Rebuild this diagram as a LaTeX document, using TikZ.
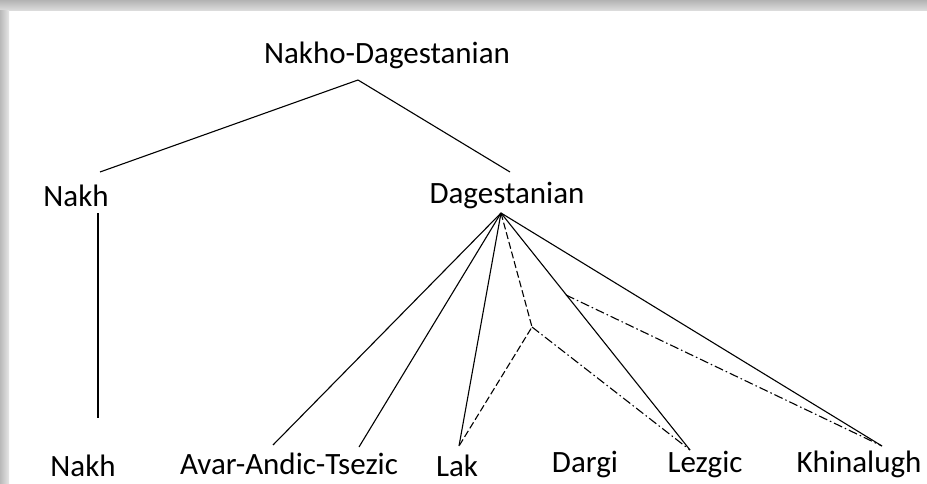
\documentclass[tikz,border=0pt]{standalone}
\usepackage{fontspec}
\setmainfont{Carlito}
\usetikzlibrary{positioning, calc}

\begin{document}
\begin{tikzpicture}[
  x=1pt, y=-1pt,
  lang/.style = {inner sep=0pt, font=\fontsize{31}{31}\selectfont},
  branch/.style = {line width=1.1pt},
  unsure/.style = {line width=1.1pt, dash pattern=on 7pt off 3pt},
  maybe/.style = {line width=1.1pt, dash pattern=on 9pt off 3pt on 1.5pt off 3pt}
]

  % ======================================================
  % Page with shadow on top and left
  % ======================================================
  \fill[white] (0,0) rectangle (927,484);
  \shade[top color=gray!60, bottom color=gray!25] (0,0) rectangle (927,11);
  \shade[left color=gray!55, right color=gray!20] (0,11) rectangle (9,484);
  \useasboundingbox (0,0) rectangle (927,484);

  % ======================================================
  % Family and branch labels
  % ======================================================
  \node[lang] (root) at (387,55) {Nakho-Dagestanian};
  \node[lang] (nakh) at (76,196) {Nakh};
  \node[lang] (dag) at (507,196) {Dagestanian};

  % Languages (bottom row)
  \node[lang] (nakhleaf) at (83,466) {Nakh};
  \node[lang] (avar) at (289,464) {Avar-Andic-Tsezic};
  \node[lang] (lak) at (457,466) {Lak};
  \node[lang] (dargi) at (585,464) {Dargi};
  \node[lang] (lezgic) at (705,464) {Lezgic};
  \node[lang] (khin) at (859,464) {Khinalugh};

  % joints of the tree
  \coordinate (top) at (358,80);
  \coordinate (hub) at (501,213);
  \coordinate (p) at (532,327);
  \coordinate (q) at (566,295);

  % line ends just above the labels
  \coordinate (nakhin) at (100,172);
  \coordinate (dagin) at (510,172);
  \coordinate (avarin) at (273,445);
  \coordinate (tsezin) at (359,447);
  \coordinate (lakin) at (459,446);
  \coordinate (lezgin) at (690,450);
  \coordinate (khinin) at (882,446);

  % Nakho-Dagestanian -> Nakh, Dagestanian
  \draw[branch] (top) -- (nakhin);
  \draw[branch] (top) -- (dagin);

  % Nakh -> Nakh
  \draw[branch] (nakh.south -| 98,0) ++(0,6) -- (98,418);

  % Dagestanian -> languages
  \draw[branch] (hub) -- (avarin);
  \draw[branch] (hub) -- (tsezin);
  \draw[branch] (hub) -- (lakin);
  \draw[branch] (hub) -- (lezgin);
  \draw[branch] (hub) -- (khinin);

  % uncertain groupings
  \draw[unsure] (hub) -- (p) -- (lakin);
  \draw[maybe] (p) -- (lezgin);
  \draw[maybe] (q) -- (khinin);

\end{tikzpicture}
\end{document}
